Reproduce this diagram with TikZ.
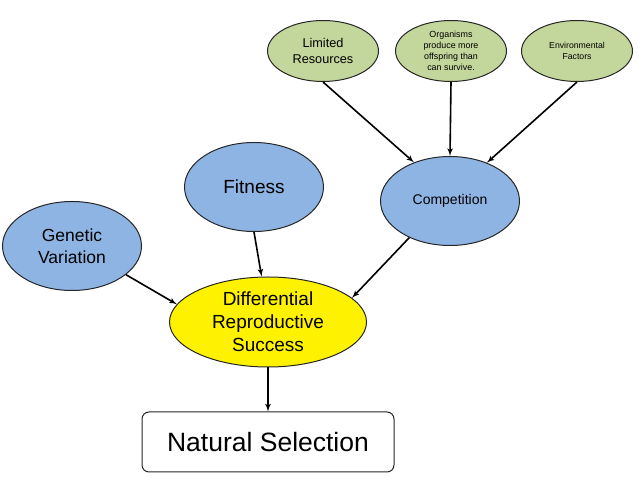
\documentclass[tikz,border=0pt]{standalone}
\usepackage{fontspec}
\setmainfont{Liberation Sans}
\usepackage{tikz}
\usetikzlibrary{shapes,arrows}
\definecolor{blueish}{HTML}{8EB4E3}
\definecolor{greenish}{HTML}{C3D69B}
\tikzstyle{bubble} = [ellipse, draw=black!85, fill=blueish, line width=1pt,
    align=center, inner sep=0pt, minimum width=139pt, minimum height=89pt]
\tikzstyle{bubble_yellow} = [ellipse, draw=black!85, fill=yellow, line width=1pt,
    align=center, inner sep=0pt, minimum width=197pt, minimum height=90pt]
\tikzstyle{bubble_small} = [ellipse, draw=black!85, fill=greenish, line width=1pt,
    align=center, inner sep=0pt, minimum width=111pt, minimum height=61pt]
\tikzstyle{block} = [rectangle, draw=black!85, line width=1pt,
    text centered, rounded corners=7pt, minimum width=252pt, minimum height=60pt]
\tikzstyle{line} = [draw, -latex', line width=1.6pt]

\begin{document}
\begin{tikzpicture}[x=1pt,y=1pt,node distance = auto]
    \useasboundingbox (0,0) rectangle (638,479);
    % Place nodes
    \node [bubble_yellow, font=\fontsize{19}{23}\selectfont] (diff) at (268,157) {Differential\\Reproductive\\Success};
    \node [block, below of=diff,node distance=120pt, font=\fontsize{26.5}{30}\selectfont] (natsel) {Natural Selection};
    \node [bubble, left of=diff,node distance=196pt,yshift=76pt, font=\fontsize{17.5}{21.5}\selectfont] (genvar) {Genetic\\Variation};
    \node [bubble, above of=diff,node distance=135pt,xshift=-14pt, font=\fontsize{19}{22}\selectfont] (fitness) {Fitness};
    \node [bubble, right of=diff,node distance=182pt,yshift=121pt, font=\fontsize{14}{17}\selectfont] (comp) {Competition};
    \node [bubble_small, above of=comp,node distance=150pt,xshift=1pt, font=\fontsize{8.9}{11}\selectfont] (organisms) {Organisms\\produce more\\offspring than\\can survive.};
    \node [bubble_small, left of=organisms,node distance=128pt, font=\fontsize{12.7}{16.5}\selectfont] (limres) {Limited\\Resources};
    \node [bubble_small, right of=organisms,node distance=126pt, font=\fontsize{8.7}{11.5}\selectfont] (envfac) {Environmental\\Factors};

    % Draw edges
    \path [line] (limres.south) -- (comp.133);
    \path [line] (organisms.south) -- (comp.north);
    \path [line] (envfac.south) -- (comp.46);
    \path [line] (genvar.-28) -- (diff.169);
    \path [line] (fitness.south) -- (diff.98);
    \path [line] (comp.222) -- (diff.16);
    \path [line] (diff) -- (natsel);
\end{tikzpicture}
\end{document}
